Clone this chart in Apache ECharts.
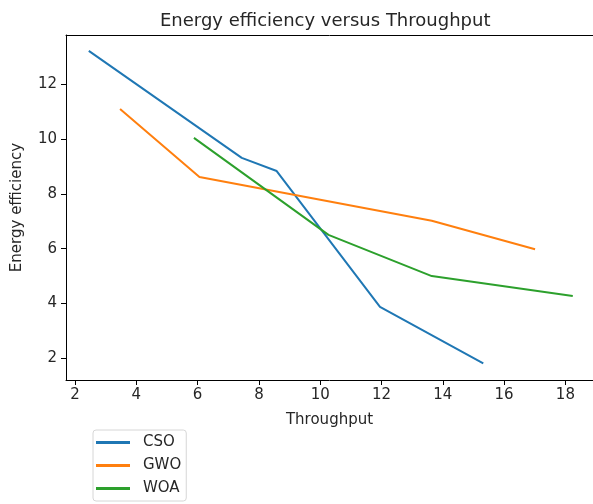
<!DOCTYPE html>
<html>
<head>
<meta charset="utf-8">
<script src="https://cdn.jsdelivr.net/npm/echarts@6/dist/echarts.min.js"></script>
<style>
  html, body { margin: 0; padding: 0; background: #fff; }
  #chart { width: 593px; height: 504px; }
</style>
</head>
<body>
<div id="chart"></div>
<script>
// ==============================
// data
// ==============================
const seriesNames = ['CSO', 'GWO', 'WOA'];

const csoX = [2.45, 7.44, 8.58, 11.95, 15.32];
const csoY = [13.21, 9.31, 8.83, 3.88, 1.82];

const gwoX = [3.47, 6.06, 13.64, 17.01];
const gwoY = [11.09, 8.61, 7.02, 5.98];

const woaX = [5.88, 10.27, 13.64, 18.24];
const woaY = [10.04, 6.50, 5.00, 4.27];

const xTicks = [2, 4, 6, 8, 10, 12, 14, 16, 18];
const yTicks = [2, 4, 6, 8, 10, 12];

// colours (matplotlib tab10)
const lineColors = ['#1f77b4', '#ff7f0e', '#2ca02c'];

const font = 'DejaVu Sans';
const textColor = '#262626';

// axis ranges (plot is cropped on the right, so no right spine)
const xMin = 1.706, xMax = 18.90;
const yMin = 1.21, yMax = 13.79;

// ==============================
// chart
// ==============================
const chart = echarts.init(document.getElementById('chart'));

const pairs = [[csoX, csoY], [gwoX, gwoY], [woaX, woaY]];

const series = pairs.map(([xs, ys], i) => ({
  name: seriesNames[i],
  type: 'line',
  showSymbol: false,
  symbol: 'none',
  data: xs.map((x, j) => [x, ys[j]]),
  lineStyle: { color: lineColors[i], width: 2 },
  itemStyle: { color: lineColors[i] }
}));

chart.setOption({
  animation: false,
  title: {
    text: 'Energy efficiency versus Throughput',
    left: 155,
    top: 7,
    textStyle: { fontFamily: font, fontSize: 18, fontWeight: 'normal', color: textColor }
  },
  legend: {
    orient: 'vertical',
    left: 93,
    top: 430,
    data: seriesNames,
    icon: 'rect',
    itemWidth: 34,
    itemHeight: 3,
    itemGap: 8,
    padding: [5, 5, 5, 3],
    borderColor: '#d6d6d6',
    borderWidth: 1,
    borderRadius: 3,
    textStyle: { fontFamily: font, fontSize: 15, color: textColor, padding: [0, 0, 0, 8] }
  },
  grid: {
    left: 66,
    right: 0,
    top: 35,
    bottom: 124
  },
  xAxis: [{
    type: 'value',
    min: xMin,
    max: xMax,
    name: 'Throughput',
    nameLocation: 'middle',
    nameGap: 33,
    nameTextStyle: { fontFamily: font, fontSize: 15, color: textColor },
    splitLine: { show: false },
    axisLine: { show: true, lineStyle: { color: '#000', width: 1 } },
    axisTick: { show: true, length: 5, customValues: xTicks, lineStyle: { color: '#000' } },
    axisLabel: { customValues: xTicks, margin: 8, fontFamily: font, fontSize: 15, color: textColor }
  }, {
    // top spine
    type: 'value',
    position: 'top',
    min: xMin,
    max: xMax,
    splitLine: { show: false },
    axisLine: { show: true, lineStyle: { color: '#000', width: 1 } },
    axisTick: { show: false },
    axisLabel: { show: false }
  }],
  yAxis: {
    type: 'value',
    min: yMin,
    max: yMax,
    name: 'Energy efficiency',
    nameLocation: 'middle',
    nameGap: 41,
    nameTextStyle: { fontFamily: font, fontSize: 15, color: textColor },
    splitLine: { show: false },
    axisLine: { show: true, lineStyle: { color: '#000', width: 1 } },
    axisTick: { show: true, length: 5, customValues: yTicks, lineStyle: { color: '#000' } },
    axisLabel: { customValues: yTicks, margin: 9, fontFamily: font, fontSize: 15, color: textColor }
  },
  series
});

window.addEventListener('resize', () => chart && chart.resize());
</script>
</body>
</html>
